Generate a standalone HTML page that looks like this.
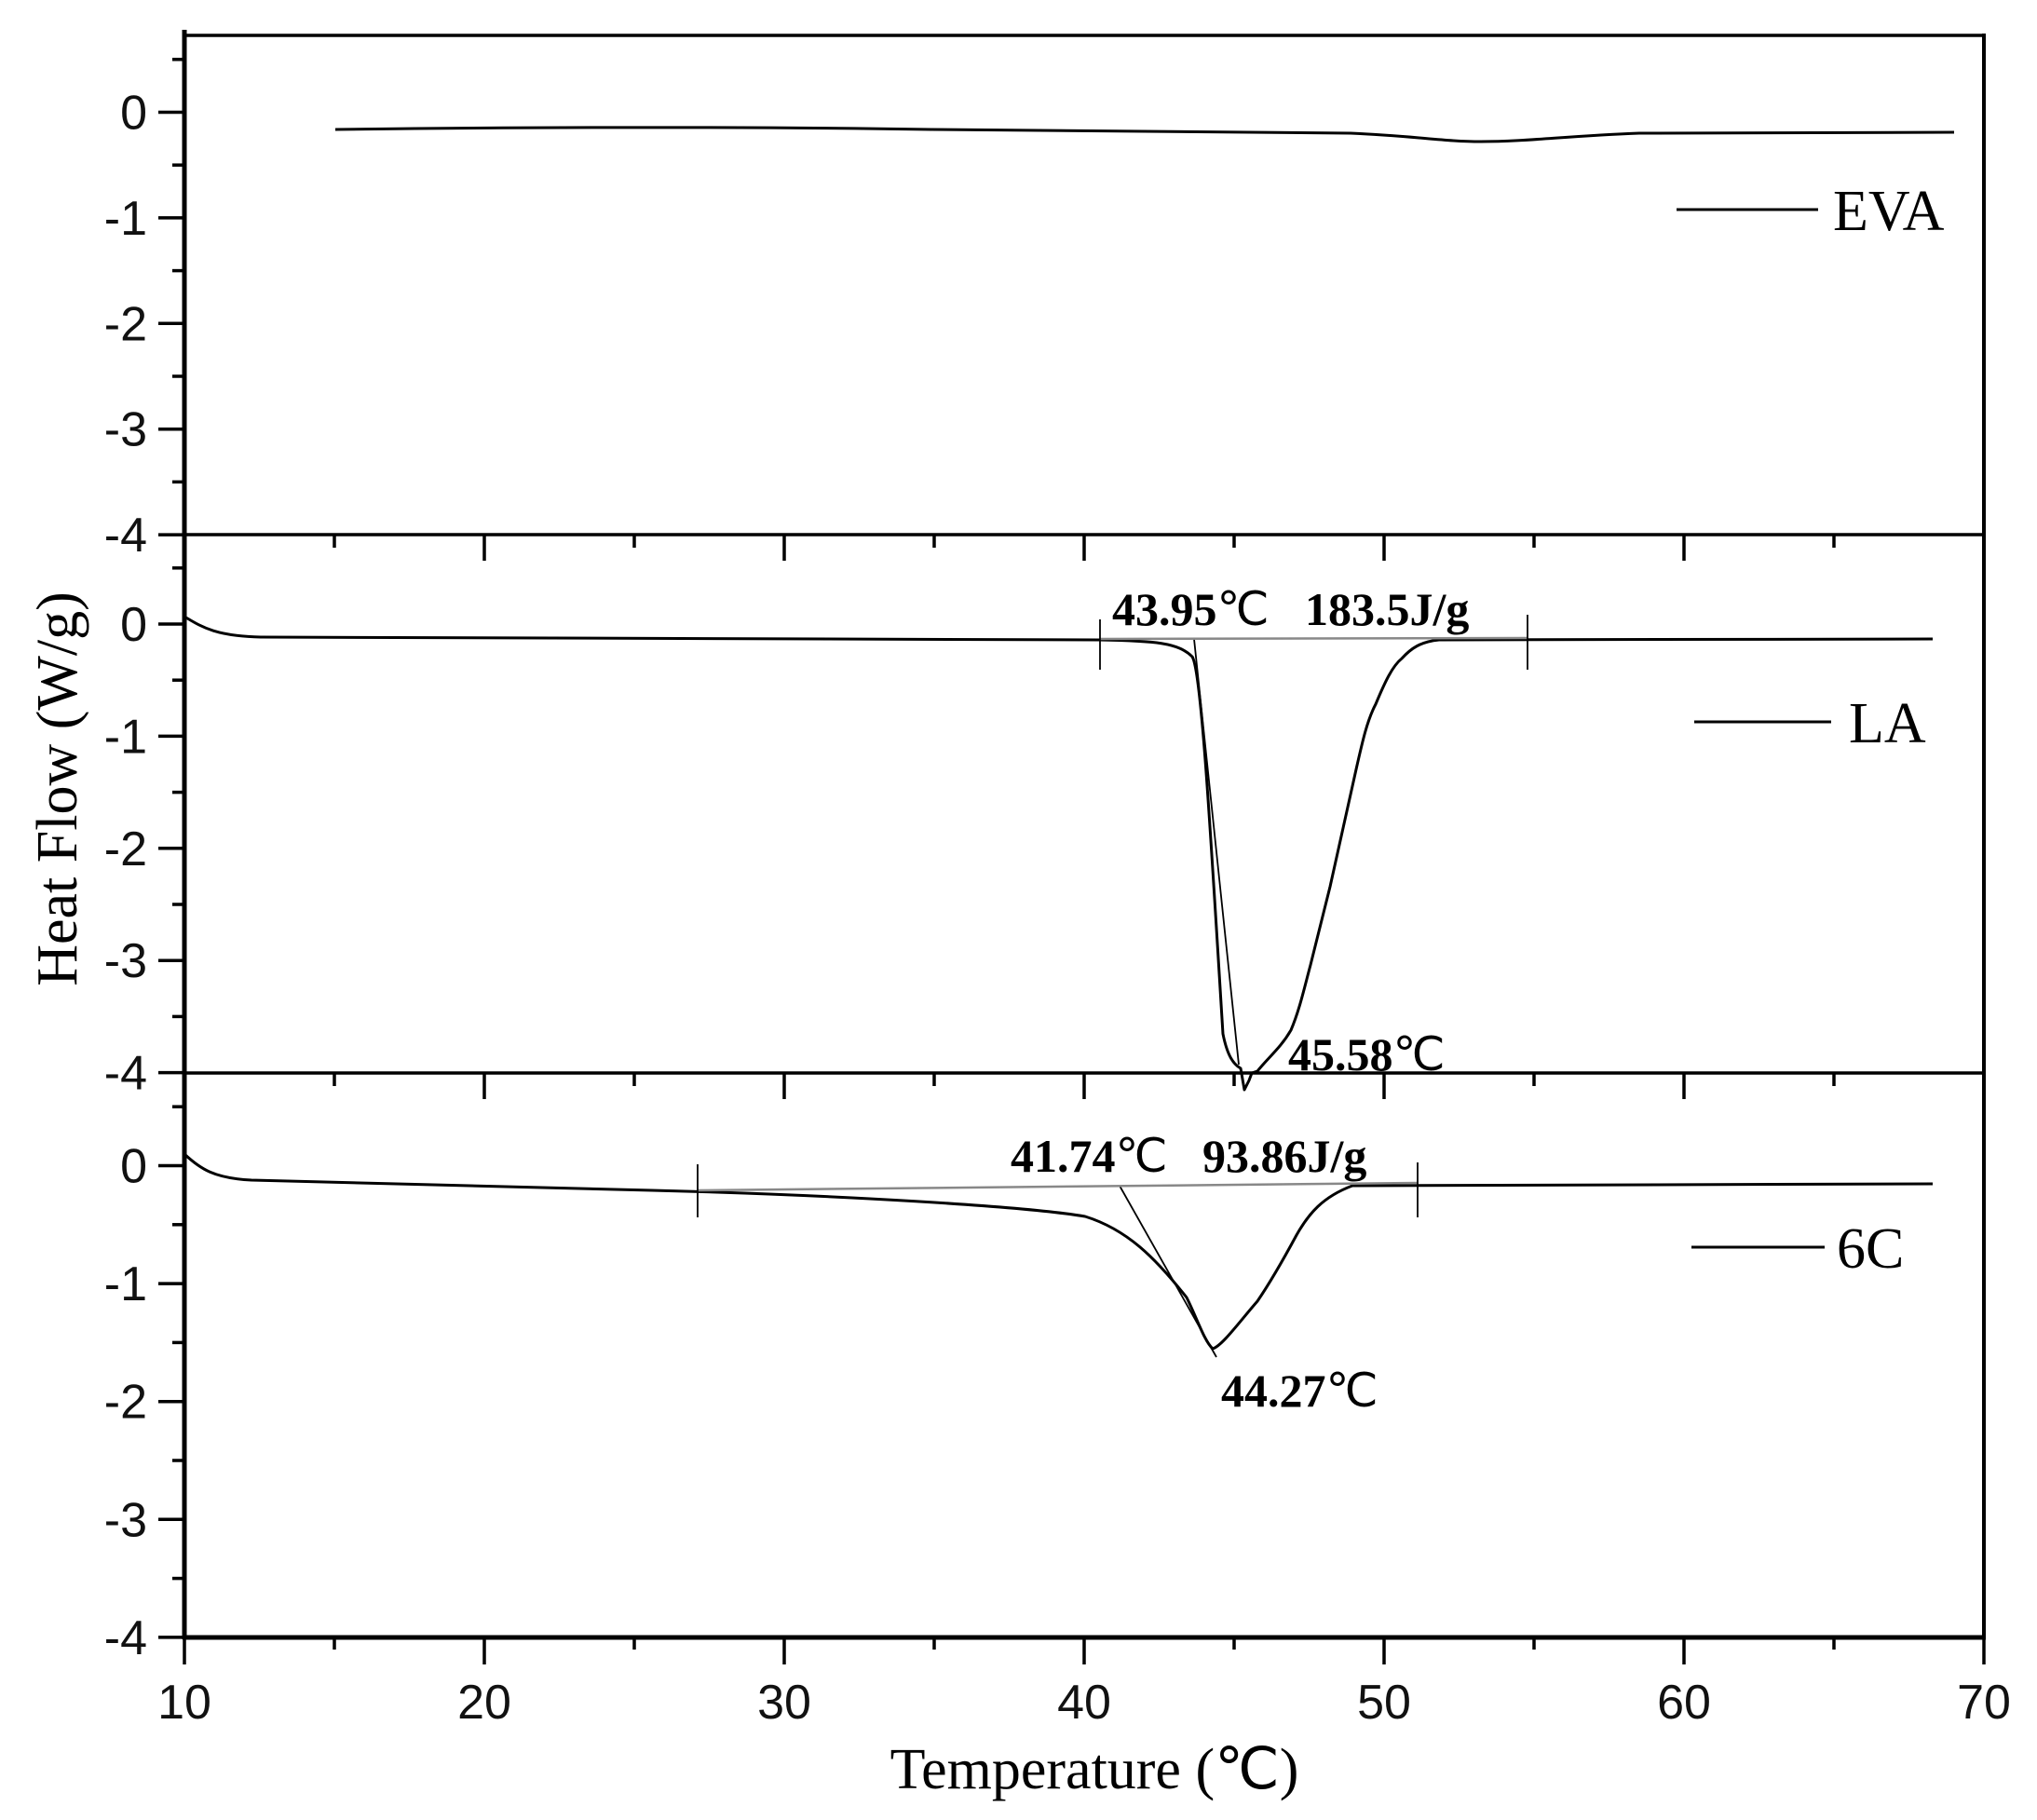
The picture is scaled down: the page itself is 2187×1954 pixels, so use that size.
<!DOCTYPE html>
<html><head><meta charset="utf-8"><style>
html,body{margin:0;padding:0;background:#fff;width:2187px;height:1954px;overflow:hidden}
svg{display:block}
.t{font-family:"Liberation Sans",Arial,sans-serif;font-size:52px;fill:#111}
.s{font-family:"Liberation Serif","Times New Roman",serif;fill:#000}
</style></head><body>
<svg id="g" width="2187" height="1954" viewBox="0 0 2187 1954" xmlns="http://www.w3.org/2000/svg">
<g fill="none" stroke="#000" stroke-linecap="butt" stroke-linejoin="round">
<line x1="198" y1="32" x2="198" y2="1760" stroke-width="5"/>
<line x1="2130" y1="36" x2="2130" y2="1760" stroke-width="4"/>
<line x1="196" y1="38" x2="2132" y2="38" stroke-width="3.5"/>
<line x1="196" y1="574" x2="2132" y2="574" stroke-width="3.5"/>
<line x1="196" y1="1152" x2="2132" y2="1152" stroke-width="3.5"/>
<line x1="196" y1="1758" x2="2132" y2="1758" stroke-width="5"/>
<g id="ticks" stroke-width="3.5"></g>
<!-- EVA -->
<path stroke-width="3" d="M360,139 C600,136 800,136 1000,139 C1200,141 1350,141 1450,143 C1520,146 1550,152 1590,152 C1640,152 1680,146 1760,143 L2098,142"/>
<!-- LA -->
<path stroke-width="3" d="M198,662 C215,672 230,683 280,684 L1180,687 C1240,688 1265,690 1280,705 C1290,720 1300,900 1313,1110 C1318,1135 1325,1143 1332,1147 L1336,1170 L1341,1160 L1344,1152 L1350,1150 C1362,1135 1375,1125 1386,1106 C1395,1085 1400,1062 1407,1036 L1428,952 L1456,826 C1463,795 1468,773 1477,756 C1487,732 1495,715 1505,707 C1515,696 1525,689 1545,687 L2075,686"/>
<line x1="1282" y1="686" x2="1330" y2="1143" stroke-width="1.8"/>
<line x1="1181" y1="686" x2="1640" y2="685" stroke="#888" stroke-width="2.5"/>
<line x1="1181" y1="665" x2="1181" y2="719" stroke-width="1.8"/>
<line x1="1640" y1="660" x2="1640" y2="719" stroke-width="1.8"/>
<!-- 6C -->
<path stroke-width="3" d="M198,1239 C215,1255 230,1265 270,1267 L700,1278 C900,1283 1100,1295 1165,1306 C1210,1320 1240,1350 1274,1393 C1285,1415 1293,1440 1302,1448 C1312,1445 1330,1420 1350,1397 C1365,1375 1378,1352 1392,1326 C1405,1303 1420,1285 1452,1273 L2075,1271"/>
<line x1="1202" y1="1273" x2="1306" y2="1457" stroke-width="1.8"/>
<line x1="749" y1="1278" x2="1522" y2="1270" stroke="#888" stroke-width="2.5"/>
<line x1="749" y1="1250" x2="749" y2="1307" stroke-width="1.8"/>
<line x1="1522" y1="1248" x2="1522" y2="1307" stroke-width="1.8"/>
<line x1="1800" y1="225" x2="1952" y2="225" stroke-width="3"/>
<line x1="1819" y1="775" x2="1966" y2="775" stroke-width="3"/>
<line x1="1816" y1="1339" x2="1959" y2="1339" stroke-width="3"/>
</g>
<g id="labels"></g>
<text class="s" x="1968" y="247" font-size="62">EVA</text>
<text class="s" x="1985" y="797" font-size="62">LA</text>
<text class="s" x="1972" y="1361" font-size="62">6C</text>
<text class="s" x="1194" y="671" font-size="50"><tspan font-weight="bold">43.95</tspan>℃</text>
<text class="s" x="1401" y="671" font-size="50" font-weight="bold">183.5J/g</text>
<text class="s" x="1383" y="1149" font-size="50"><tspan font-weight="bold">45.58</tspan>℃</text>
<text class="s" x="1085" y="1258" font-size="50"><tspan font-weight="bold">41.74</tspan>℃</text>
<text class="s" x="1291" y="1258" font-size="50" font-weight="bold">93.86J/g</text>
<text class="s" x="1311" y="1510" font-size="50"><tspan font-weight="bold">44.27</tspan>℃</text>
<text class="s" x="1175" y="1920" font-size="62" text-anchor="middle">Temperature (℃)</text>
<text class="s" font-size="62" text-anchor="middle" transform="translate(82,847) rotate(-90)">Heat Flow (W/g)</text>
</svg>
<script>
var NS="http://www.w3.org/2000/svg",T=document.getElementById("ticks"),L=document.getElementById("labels");
function ln(a,b,c,d){var e=document.createElementNS(NS,"line");e.setAttribute("x1",a);e.setAttribute("y1",b);e.setAttribute("x2",c);e.setAttribute("y2",d);T.appendChild(e);}
function tx(x,y,s,anc){var e=document.createElementNS(NS,"text");e.setAttribute("x",x);e.setAttribute("y",y);e.setAttribute("class","t");e.setAttribute("text-anchor",anc);e.textContent=s;L.appendChild(e);}
var panels=[[120.5,113.4,38],[670,120.4,574],[1251.5,126.6,1152]];
panels.forEach(function(p){
 for(var v=0.5;v>=-4;v-=0.5){var y=p[0]-v*p[1];if(y<p[2]-1)continue;var maj=Math.abs(v-Math.round(v))<1e-6;
  ln(198,y,maj?170:185,y);
  if(maj)tx(158,y+18,v==0?"0":String(v),"end");}
});
for(var t=10;t<=70;t+=5){var x=198+(t-10)*32.2,maj=t%10==0;
 ln(x,1758,x,maj?1787:1771);
 if(t>10&&t<70){ln(x,574,x,maj?602:588);ln(x,1152,x,maj?1180:1166);}
 if(maj)tx(x,1845,String(t),"middle");}
</script>
</body></html>
